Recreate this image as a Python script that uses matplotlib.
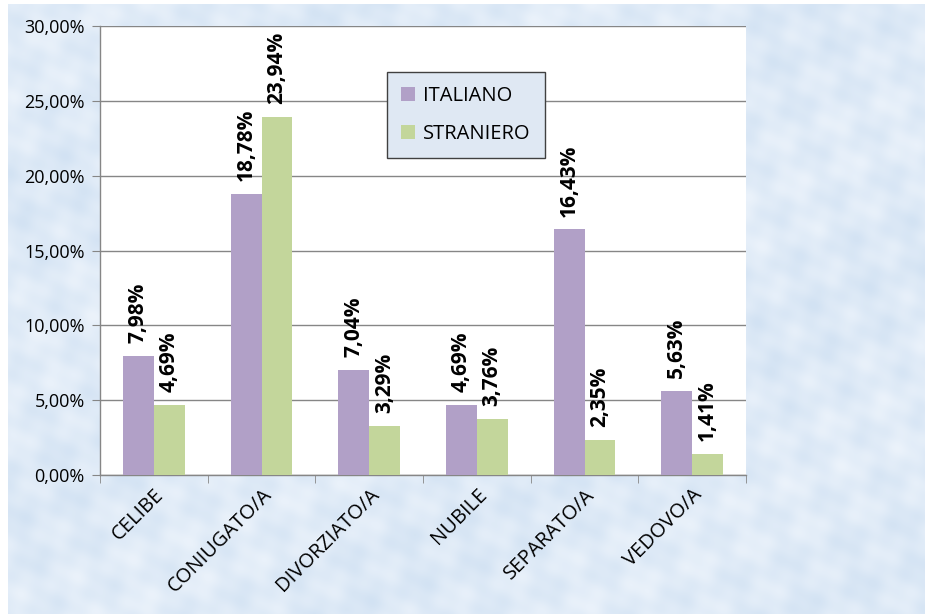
import numpy as np
import matplotlib
matplotlib.use("Agg")
import matplotlib.pyplot as plt
from matplotlib.ticker import FuncFormatter, FixedLocator

# dati: stato civile per cittadinanza (percentuali)
categorie = ["CELIBE", "CONIUGATO/A", "DIVORZIATO/A", "NUBILE", "SEPARATO/A", "VEDOVO/A"]
italiano = [7.98, 18.78, 7.04, 4.69, 16.43, 5.63]
straniero = [4.69, 23.94, 3.29, 3.76, 2.35, 1.41]
serie = ["ITALIANO", "STRANIERO"]
colori = ["#b1a0c7", "#c3d69b"]

plt.rcParams["font.family"] = ["Open Sans", "DejaVu Sans"]

fig = plt.figure(figsize=(9.25, 6.14), dpi=100)

# sfondo azzurro con una leggera trama
h, w = 614, 925
yy, xx = np.mgrid[0:h, 0:w]
trama = (np.sin(xx * 0.071 + yy * 0.043) * np.sin(xx * 0.029 - yy * 0.083)
         + 0.5 * np.sin(xx * 0.19 - yy * 0.11) * np.sin(xx * 0.05 + yy * 0.17)
         + 0.4 * np.sin(xx * 0.013 + yy * 0.021))
trama = (trama - trama.min()) / (trama.max() - trama.min())
scuro = np.array([210, 226, 243]) / 255.0
chiaro = np.array([236, 243, 251]) / 255.0
img = scuro + (chiaro - scuro) * trama[..., None]
img[:4, :] = 1.0
img[:, :8] = 1.0

sfondo = fig.add_axes([0, 0, 1, 1], zorder=-1)
sfondo.imshow(img, origin="upper", aspect="auto", interpolation="bilinear")
sfondo.axis("off")

ax = fig.add_axes([100 / 925, (614 - 475) / 614, 646 / 925, 449 / 614])
ax.set_facecolor("white")

x = np.arange(len(categorie))
larg = 0.285
b1 = ax.bar(x - larg / 2, italiano, larg, color=colori[0], label=serie[0], zorder=3)
b2 = ax.bar(x + larg / 2, straniero, larg, color=colori[1], label=serie[1], zorder=3)

# etichette dei valori, ruotate in verticale
for barre, valori in ((b1, italiano), (b2, straniero)):
    for b, v in zip(barre, valori):
        ax.annotate(f"{v:.2f}%".replace(".", ","),
                    (b.get_x() + b.get_width() / 2, v),
                    xytext=(0, 9), textcoords="offset points",
                    rotation=90, ha="center", va="bottom",
                    fontsize=15, fontweight="bold", color="black", zorder=4)

ax.set_ylim(0, 30)
ax.set_xlim(-0.5, len(categorie) - 0.5)
ax.set_yticks(np.arange(0, 31, 5))
ax.yaxis.set_major_formatter(FuncFormatter(lambda v, p: f"{v:.2f}%".replace(".", ",")))
ax.grid(axis="y", color="#868686", linewidth=1, zorder=1)
ax.set_axisbelow(True)

ax.set_xticks(x)
ax.set_xticklabels(categorie, rotation=45, ha="right", rotation_mode="anchor", fontsize=14.5)
ax.xaxis.set_minor_locator(FixedLocator(np.arange(-0.5, len(categorie), 1)))
ax.tick_params(axis="x", which="major", length=0, pad=7)
ax.tick_params(axis="x", which="minor", length=6, color="#868686", direction="out")
ax.tick_params(axis="y", length=6, color="#868686", labelsize=13, pad=5)

for lato in ("top", "right"):
    ax.spines[lato].set_visible(False)
for lato in ("left", "bottom"):
    ax.spines[lato].set_color("#868686")
    ax.spines[lato].set_linewidth(1)

leg = ax.legend(loc="upper left", bbox_to_anchor=(0.444, 0.898), borderaxespad=0,
                fontsize=14.5, handlelength=0.7, handleheight=0.7, handletextpad=0.4,
                labelspacing=0.9, borderpad=0.7, fancybox=False, framealpha=1)
leg.get_frame().set_facecolor("#dfe8f3")
leg.get_frame().set_edgecolor("#404040")
leg.get_frame().set_linewidth(1)

fig.savefig("out.png", dpi=100)
